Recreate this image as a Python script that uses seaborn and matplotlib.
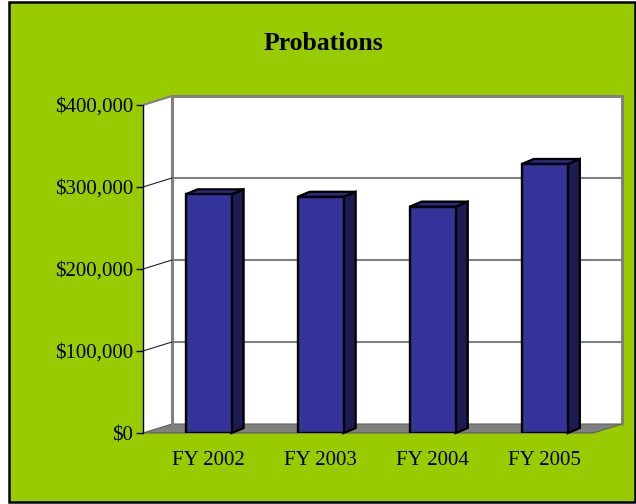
"""Probations by fiscal year, drawn as an Excel-style 3D column chart."""

import matplotlib
matplotlib.use("Agg")
import matplotlib.pyplot as plt
from matplotlib.patches import Polygon, Rectangle
import seaborn as sns

YEARS = ["FY 2002", "FY 2003", "FY 2004", "FY 2005"]
AMOUNTS = [291000, 288000, 276000, 328000]
Y_TICKS = [0, 100000, 200000, 300000, 400000]
Y_TICK_LABELS = ["$0", "$100,000", "$200,000", "$300,000", "$400,000"]

GREEN = "#99CC00"
FRONT = "#333399"
SIDE = "#1C1C55"
TOP = "#2B2B88"
GRAY = "#808080"

W, H, DPI = 636, 504, 100

sns.set_theme(style="white")
plt.rcParams["font.family"] = ["Liberation Serif", "DejaVu Serif"]
plt.rcParams["text.color"] = "black"
plt.rcParams["xtick.color"] = "black"
plt.rcParams["ytick.color"] = "black"

fig = plt.figure(figsize=(W / DPI, H / DPI), dpi=DPI)
fig.patch.set_facecolor("white")
fig.patches.append(Rectangle((9 / W, 2 / H), 626 / W, 500 / H, transform=fig.transFigure,
                             facecolor=GREEN, edgecolor="black", linewidth=1.8, zorder=-10))

# front plane of the plot in pixels
left, right, top, bottom = 143, 593, 105, 433
ax = fig.add_axes([left / W, (H - bottom) / H, (right - left) / W, (bottom - top) / H])
ax.set_facecolor("none")

sns.barplot(x=YEARS, y=AMOUNTS, color=FRONT, saturation=1, width=0.41,
            edgecolor="black", linewidth=1.7, ax=ax, zorder=5)
bars = list(ax.patches)

xmin, xmax = -0.585, 3.43
ymax = 400000
ax.set_xlim(xmin, xmax)
ax.set_ylim(0, ymax)

px_x = (xmax - xmin) / (right - left)  # data units per pixel
px_y = ymax / (bottom - top)
DX, DY = 29 * px_x, 9 * px_y  # depth of the plot box
BX, BY = 12 * px_x, 5 * px_y  # depth of each column

# left wall, back wall, floor
ax.add_patch(Polygon([(xmin, 0), (xmin, ymax), (xmin + DX, ymax + DY), (xmin + DX, DY)],
                     facecolor="white", edgecolor="none", clip_on=False, zorder=0))
ax.add_patch(Polygon([(xmin + DX, DY), (xmax + DX, DY), (xmax + DX, ymax + DY), (xmin + DX, ymax + DY)],
                     facecolor="white", edgecolor="none", clip_on=False, zorder=0))
ax.add_patch(Polygon([(xmin, 0), (xmax, 0), (xmax + DX, DY), (xmin + DX, DY)],
                     facecolor=GRAY, edgecolor="#606060", linewidth=0.8, clip_on=False, zorder=1))

# wall edges
ax.plot([xmin + DX, xmin + DX, xmax + DX, xmax + DX], [DY, ymax + DY, ymax + DY, DY],
        color=GRAY, linewidth=2.2, clip_on=False, zorder=1)
ax.plot([xmin, xmin + DX], [ymax, ymax + DY], color=GRAY, linewidth=1.5, clip_on=False, zorder=1)

# gridlines on the back wall and the left wall
for v in Y_TICKS[1:-1]:
    ax.plot([xmin + DX, xmax + DX], [v + DY, v + DY], color=GRAY, linewidth=1.5,
            clip_on=False, zorder=1)
    ax.plot([xmin, xmin + DX], [v, v + DY], color="#222222", linewidth=0.8,
            clip_on=False, zorder=1)

# side and top faces of each column
for bar in bars:
    x0, w, h = bar.get_x(), bar.get_width(), bar.get_height()
    x1 = x0 + w
    ax.add_patch(Polygon([(x1, 0), (x1 + BX, BY), (x1 + BX, h + BY), (x1, h)],
                         facecolor=SIDE, edgecolor="black", linewidth=1.7, zorder=4, clip_on=False))
    ax.add_patch(Polygon([(x0, h), (x0 + BX, h + BY), (x1 + BX, h + BY), (x1, h)],
                         facecolor=TOP, edgecolor="black", linewidth=1.7, zorder=4, clip_on=False))

for side in ["top", "right", "bottom"]:
    ax.spines[side].set_visible(False)
ax.spines["left"].set_color("black")
ax.spines["left"].set_linewidth(1.0)
ax.spines["left"].set_zorder(2)

ax.set_yticks(Y_TICKS)
ax.set_yticklabels(Y_TICK_LABELS, fontsize=15)
ax.tick_params(axis="y", direction="out", length=5, width=1, color="black", pad=2, left=True)
ax.tick_params(axis="x", length=0, pad=13, labelsize=15)
ax.set_xlabel("")
ax.set_ylabel("")

fig.text(323 / W, (H - 50) / H, "Probations", ha="center", va="baseline",
         fontsize=18.5, fontweight="bold")

fig.savefig("out.png", dpi=DPI)
